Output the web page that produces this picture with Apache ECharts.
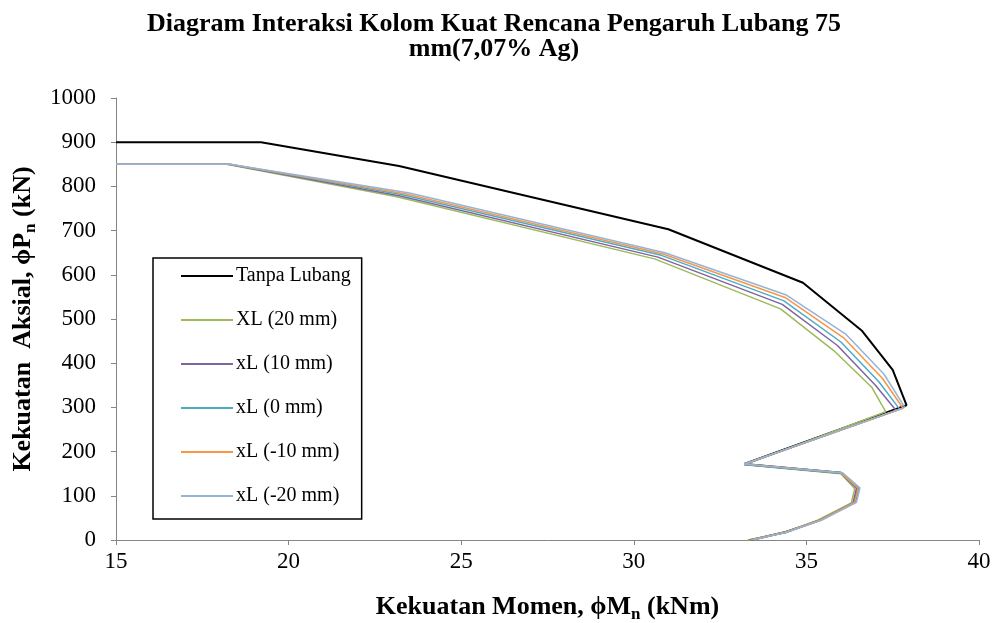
<!DOCTYPE html>
<html>
<head>
<meta charset="utf-8">
<script src="https://cdn.jsdelivr.net/npm/echarts@6/dist/echarts.min.js"></script>
<style>
  html, body { margin: 0; padding: 0; background: #fff; }
  #chart { width: 992px; height: 623px; }
</style>
</head>
<body>
<div id="chart"></div>
<script>
// [momen kNm, aksial kN]
var tanpaLubang = [[15, 900], [19.2, 900], [23.2, 846], [31.0, 703], [34.9, 582], [36.6, 474], [37.5, 385], [37.9, 305],
  [33.2, 172], [36.0, 152], [36.5, 118], [36.4, 85], [35.4, 45], [34.4, 18], [33.4, 0]];
var xl20 = [[15, 850], [18.2, 850], [23.1, 777], [30.6, 636], [34.25, 523], [35.8, 428], [36.9, 345], [37.3, 290],
  [33.2, 170], [36.0, 150], [36.4, 116], [36.3, 84], [35.3, 44], [34.4, 17], [33.3, 0]];
var xl10 = [[15, 850], [18.25, 850], [23.2, 779], [30.7, 640], [34.3, 533], [35.9, 440], [37.0, 350], [37.6, 293],
  [33.2, 171], [36.0, 151], [36.45, 117], [36.35, 84], [35.35, 44], [34.4, 17], [33.35, 0]];
var xl0 = [[15, 850], [18.3, 850], [23.3, 781], [30.8, 644], [34.35, 541], [36.0, 448], [37.1, 358], [37.7, 296],
  [33.2, 171], [36.0, 151], [36.5, 117], [36.4, 85], [35.4, 45], [34.4, 18], [33.4, 0]];
var xlMin10 = [[15, 850], [18.3, 850], [23.4, 783], [30.85, 647], [34.4, 548], [36.1, 456], [37.2, 366], [37.8, 298],
  [33.2, 172], [36.0, 152], [36.5, 118], [36.4, 85], [35.4, 45], [34.4, 18], [33.4, 0]];
var xlMin20 = [[15, 850], [18.3, 850], [23.5, 785], [30.9, 650], [34.4, 555], [36.15, 465], [37.25, 375], [37.85, 300],
  [33.2, 172], [36.05, 152], [36.55, 118], [36.45, 85], [35.45, 45], [34.45, 18], [33.45, 0]];

var seriesNames = ['Tanpa Lubang', 'XL (20 mm)', 'xL (10 mm)', 'xL (0 mm)', 'xL (-10 mm)', 'xL (-20 mm)'];
var seriesData = [tanpaLubang, xl20, xl10, xl0, xlMin10, xlMin20];
var seriesColors = ['#000000', '#9BBB59', '#8064A2', '#4BACC6', '#F79646', '#95B3D7'];
var seriesWidths = [2, 1.5, 1.5, 1.5, 1.5, 1.5];

var serif = '"Liberation Serif", "Times New Roman", serif';

var chart = echarts.init(document.getElementById('chart'));

var nameRich = {
  a: { fontFamily: serif, fontSize: 26, fontWeight: 'bold', color: '#000' },
  s: { fontFamily: serif, fontSize: 17, fontWeight: 'bold', color: '#000', padding: [14, 0, 0, 0] }
};

var option = {
  animation: false,
  backgroundColor: '#fff',
  textStyle: { fontFamily: serif },
  title: {
    text: 'Diagram Interaksi Kolom Kuat Rencana Pengaruh Lubang 75\nmm(7,07% Ag)',
    left: 489,
    top: 7,
    textAlign: 'center',
    textStyle: { fontFamily: serif, fontSize: 26, fontWeight: 'bold', color: '#000', lineHeight: 25 }
  },
  grid: { left: 116, right: 13, top: 98, bottom: 83, outerBoundsMode: 'none', containLabel: false },
  legend: {
    orient: 'vertical',
    left: 153,
    top: 258,
    padding: [8, 11, 13, 27],
    itemGap: 24,
    itemWidth: 52,
    itemHeight: 20,
    borderColor: '#000',
    borderWidth: 1.5,
    borderRadius: 0,
    itemStyle: { opacity: 0 },
    textStyle: { fontFamily: serif, fontSize: 20, color: '#000', padding: [0, 0, 0, -2] },
    data: seriesNames
  },
  xAxis: {
    type: 'value',
    min: 15, max: 40, interval: 5,
    name: '{a|Kekuatan Momen, ϕM}{s|n}{a| (kNm)}',
    nameLocation: 'middle',
    nameGap: 52,
    nameTextStyle: { rich: nameRich },
    axisLine: { lineStyle: { color: '#868686', width: 1 } },
    axisTick: { inside: false, length: 5, lineStyle: { color: '#868686' } },
    axisLabel: { fontFamily: serif, fontSize: 23, color: '#000', margin: 10 },
    splitLine: { show: false }
  },
  yAxis: {
    type: 'value',
    min: 0, max: 1000, interval: 100,
    name: '{a|Kekuatan  Aksial, ϕP}{s|n}{a| (kN)}',
    nameLocation: 'middle',
    nameRotate: 90,
    nameGap: 77,
    nameTextStyle: { rich: nameRich },
    axisLine: { show: true, lineStyle: { color: '#868686', width: 1 } },
    axisTick: { show: true, inside: false, length: 5, lineStyle: { color: '#868686' } },
    axisLabel: { fontFamily: serif, fontSize: 23, color: '#000', margin: 20, formatter: function (v) { return String(v); } },
    splitLine: { show: false }
  },
  series: seriesNames.map(function (name, i) {
    return {
      name: name,
      type: 'line',
      data: seriesData[i],
      symbol: 'none',
      z: 2 + i,
      color: seriesColors[i],
      lineStyle: { color: seriesColors[i], width: seriesWidths[i] }
    };
  })
};

chart.setOption(option);
</script>
</body>
</html>
